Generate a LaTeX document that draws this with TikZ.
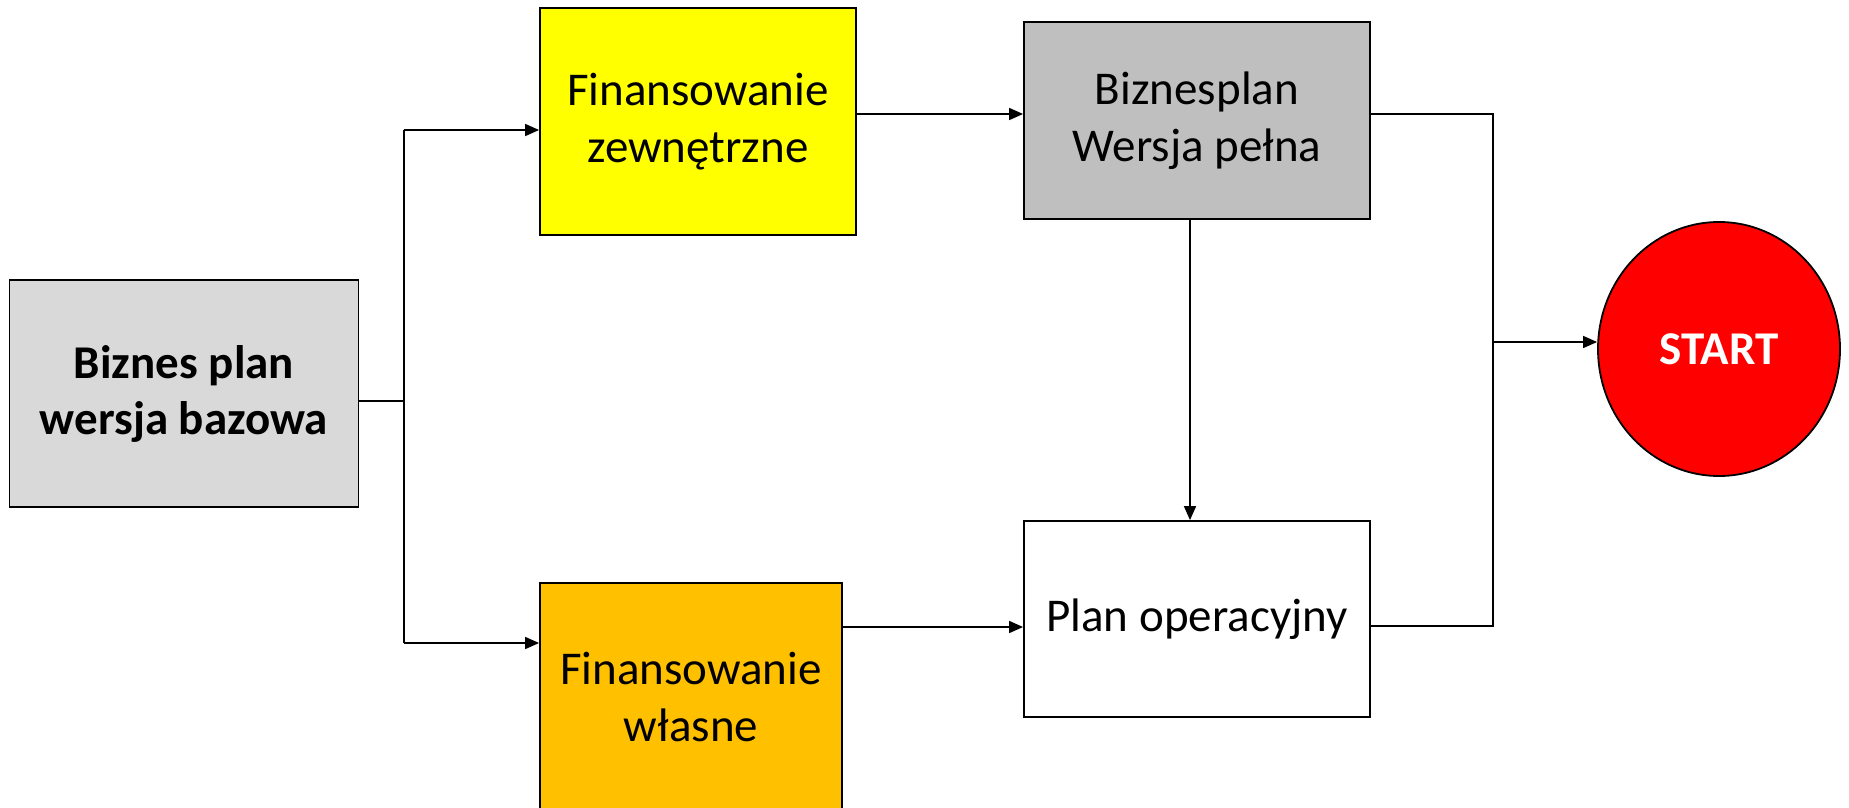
\documentclass[tikz,border=0pt]{standalone}
\usepackage{fontspec}
\setmainfont{Carlito}
\usetikzlibrary{arrows.meta,shapes.geometric,calc}
\definecolor{gA}{HTML}{D9D9D9}
\definecolor{gC}{HTML}{BFBFBF}
\definecolor{yB}{HTML}{FFFF00}
\definecolor{oE}{HTML}{FFC000}
\definecolor{rS}{HTML}{FF0000}
\begin{document}
\begin{tikzpicture}[x=1pt,y=-1pt,
  box/.style={draw=black,line width=1.8pt,rectangle,inner sep=0pt,align=center,
    font=\fontsize{47}{57}\selectfont},
  conn/.style={line width=1.6pt,black},
  arr/.style={conn,-{Triangle[length=14pt,width=12pt]}}]
\useasboundingbox[fill=white] (0,0) rectangle (1849,808);
\node[box,fill=gA,minimum width=349pt,minimum height=227pt,font=\fontsize{47}{56}\selectfont\bfseries] (A) at (184,393.5) {Biznes plan\\wersja bazowa};
\node[box,fill=yB,minimum width=316pt,minimum height=227pt] (B) at (698,121.5) {Finansowanie\\zewnętrzne};
\node[box,fill=gC,minimum width=346pt,minimum height=197pt] (C) at (1197,120.5) {Biznesplan\\Wersja pełna};
\node[box,fill=white,minimum width=346pt,minimum height=196pt] (D) at (1197,619) {Plan operacyjny};
\node[box,fill=oE,minimum width=302pt,minimum height=227pt] (E) at (691,696.5) {Finansowanie\\własne};
\node[draw=black,line width=1.8pt,ellipse,fill=rS,inner sep=0pt,minimum width=242pt,minimum height=254pt,
  text=white,font=\fontsize{47}{57}\selectfont\bfseries] (S) at (1719,349) {START};
\coordinate (J1) at (404,401);
\coordinate (Jt) at (404,130);
\coordinate (Jb) at (404,643);
\coordinate (Rt) at (1493,114);
\coordinate (Rb) at (1493,626);
\coordinate (K) at (1493,342);
\draw[conn] (A.east |- J1) -- (J1);
\draw[conn] (Jt) -- (Jb);
\draw[arr] (Jt) -- (B.west |- Jt);
\draw[arr] (Jb) -- (E.west |- Jb);
\draw[arr] (B.east |- Rt) -- (C.west |- Rt);
\draw[arr] ([xshift=-7pt]C.south) -- ([xshift=-7pt]D.north);
\draw[arr] ([yshift=-8pt]D.west -| E.east) -- ([yshift=-8pt]D.west);
\draw[conn] (C.east |- Rt) -- (Rt) -- (Rb) -- (D.east |- Rb);
\draw[arr] (K) -- (S.west |- K);
\end{tikzpicture}
\end{document}
